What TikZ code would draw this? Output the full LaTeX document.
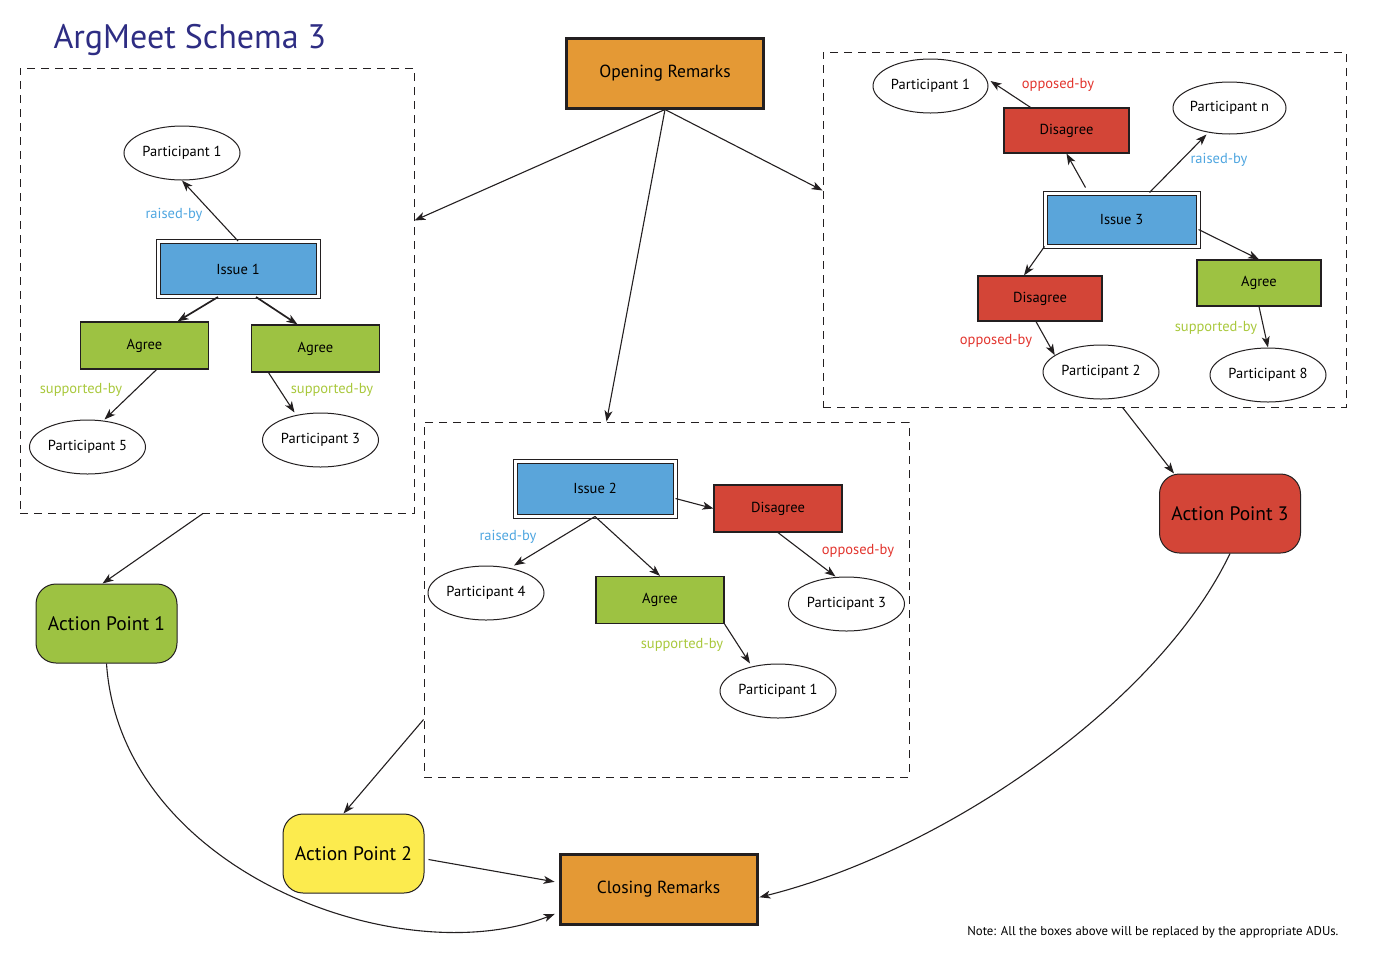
\documentclass[tikz,border=0pt]{standalone}
\usepackage{fontspec}
\setmainfont{PT Sans}
\usetikzlibrary{arrows.meta,shapes.geometric}

\definecolor{linegray}{HTML}{231F20}
\definecolor{issueblue}{HTML}{5AA5DA}
\definecolor{agreegreen}{HTML}{9DC242}
\definecolor{disred}{HTML}{D34537}
\definecolor{remorange}{HTML}{E49935}
\definecolor{apyellow}{HTML}{FCEB4E}
\definecolor{titleblue}{HTML}{2E2D83}
\definecolor{raisedcol}{HTML}{4FA6E0}
\definecolor{opposedcol}{HTML}{E2342D}
\definecolor{supportcol}{HTML}{A9C83C}

\begin{document}
\begin{tikzpicture}[x=1pt,y=-1pt,>={Stealth[length=11pt,width=8pt,inset=3pt]},
  conn/.style={->,draw=linegray,line width=1.1pt},
  group/.style={draw=linegray,dash pattern=on 8pt off 6pt,line width=0.9pt,inner sep=0pt},
  part/.style={ellipse,draw=linegray,line width=1pt,fill=white,minimum width=116pt,minimum height=54pt,inner sep=0pt,font=\fontsize{14.5}{16}\selectfont},
  issue/.style={draw=linegray,line width=1pt,double=white,double distance=3pt,fill=issueblue,minimum width=160pt,minimum height=55pt,font=\fontsize{14.5}{16}\selectfont},
  agree/.style={draw=linegray,line width=1.2pt,fill=agreegreen,minimum width=128pt,minimum height=47pt,font=\fontsize{14.5}{16}\selectfont},
  disagree/.style={agree,fill=disred},
  remarks/.style={draw=linegray,line width=3pt,fill=remorange,minimum width=197pt,minimum height=70pt,font=\fontsize{17.5}{20}\selectfont},
  action/.style={draw=linegray,line width=1pt,rounded corners=20pt,minimum width=141pt,minimum height=79pt,font=\fontsize{19.5}{24}\selectfont},
  rel/.style={font=\fontsize{14.5}{16}\selectfont}]
  \useasboundingbox (0,0) rectangle (1376,956);

  \node[anchor=base west,text=titleblue,font=\fontsize{34}{38}\selectfont] (title) at (50,48) {ArgMeet Schema 3};

  % groups
  \node[group,minimum width=394pt,minimum height=445pt] (box1) at (217,290.5) {};
  \node[group,minimum width=485pt,minimum height=355pt] (box2) at (666.5,599.5) {};
  \node[group,minimum width=523pt,minimum height=355pt] (box3) at (1084.5,229.5) {};

  \node[remarks] (open) at (665,73) {Opening Remarks};
  \node[remarks] (close) at (658.5,889.5) {Closing Remarks};

  \node[action,fill=agreegreen] (ap1) at (106.5,623.5) {Action Point 1};
  \node[action,fill=apyellow] (ap2) at (353.5,853.5) {Action Point 2};
  \node[action,fill=disred] (ap3) at (1230,513.5) {Action Point 3};

  % issue 1
  \node[part] (b1p1) at (182,153) {Participant 1};
  \node[issue] (b1iss) at (238,269) {Issue 1};
  \node[agree] (b1ag1) at (144.5,345.5) {Agree};
  \node[agree] (b1ag2) at (315.5,348.5) {Agree};
  \node[part] (b1p5) at (87.5,447) {Participant 5};
  \node[part] (b1p3) at (320.5,440) {Participant 3};
  \node[rel,text=raisedcol] (b1r1) at (174,215) {raised-by};
  \node[rel,text=supportcol] (b1s1) at (81,390) {supported-by};
  \node[rel,text=supportcol] (b1s2) at (332,390) {supported-by};

  \draw[conn] (b1iss.north) -- (b1p1.south);
  \draw[conn,line width=1.7pt] ([xshift=-20pt]b1iss.south) -- ([xshift=33pt]b1ag1.north);
  \draw[conn,line width=1.7pt] ([xshift=18pt]b1iss.south) -- ([xshift=-18pt]b1ag2.north);
  \draw[conn] ([xshift=12pt]b1ag1.south) -- ([xshift=17pt]b1p5.north);
  \draw[conn] ([xshift=-47pt]b1ag2.south) -- ([xshift=-26pt]b1p3.north);

  % issue 2
  \node[issue] (b2iss) at (595,488.5) {Issue 2};
  \node[disagree] (b2dis) at (778,508.5) {Disagree};
  \node[part] (b2p4) at (486,593) {Participant 4};
  \node[agree] (b2ag) at (660,600) {Agree};
  \node[part] (b2p3) at (846.5,604) {Participant 3};
  \node[part] (b2p1) at (778,691) {Participant 1};
  \node[rel,text=raisedcol] (b2r1) at (508,537) {raised-by};
  \node[rel,text=opposedcol] (b2o1) at (858,551) {opposed-by};
  \node[rel,text=supportcol] (b2s1) at (682,645) {supported-by};

  \draw[conn] ([yshift=-10pt]b2iss.east) -- (b2dis.west);
  \draw[conn] (b2iss.south) -- ([xshift=28pt]b2p4.north);
  \draw[conn] (b2iss.south) -- (b2ag.north);
  \draw[conn] (b2dis.south) -- ([xshift=-11pt]b2p3.north);
  \draw[conn] (b2ag.south east) -- ([xshift=-28pt]b2p1.north);

  % issue 3
  \node[part,minimum width=115pt] (b3p1) at (930.5,86) {Participant 1};
  \node[disagree,minimum width=125pt,minimum height=45pt] (b3dis1) at (1066.5,130.5) {Disagree};
  \node[part,minimum width=113pt,minimum height=52pt] (b3pn) at (1229.5,108) {Participant n};
  \node[issue,minimum width=153pt,minimum height=53pt] (b3iss) at (1121.5,219.5) {Issue 3};
  \node[disagree,minimum width=124pt,minimum height=45pt] (b3dis2) at (1040,298.5) {Disagree};
  \node[agree,minimum width=124pt,minimum height=46pt] (b3ag) at (1259,283) {Agree};
  \node[part] (b3p2) at (1101,372) {Participant 2};
  \node[part] (b3p8) at (1268,375) {Participant 8};
  \node[rel,text=opposedcol] (b3o1) at (1058,85) {opposed-by};
  \node[rel,text=raisedcol] (b3r1) at (1219,160) {raised-by};
  \node[rel,text=opposedcol] (b3o2) at (996,341) {opposed-by};
  \node[rel,text=supportcol] (b3s1) at (1216,328) {supported-by};

  \draw[conn] ([xshift=-36pt,yshift=5pt]b3iss.north) -- (b3dis1.south);
  \draw[conn] ([xshift=-36pt]b3dis1.north) -- ([xshift=2pt,yshift=5pt]b3p1.east);
  \draw[conn] ([xshift=28pt]b3iss.north) -- ([xshift=-23pt]b3pn.south);
  \draw[conn] (b3iss.south west) -- ([xshift=-16pt]b3dis2.north);
  \draw[conn] ([yshift=-10pt]b3iss.east) -- (b3ag.north);
  \draw[conn] ([xshift=-4pt]b3dis2.south) -- (b3p2.160);
  \draw[conn] (b3ag.south) -- (b3p8.north);

  % meeting flow
  \draw[conn] (open.south) -- ([yshift=70pt]box1.east);
  \draw[conn] (open.south) -- ([xshift=-60pt]box2.north);
  \draw[conn] (open.south) -- ([yshift=39pt]box3.west);
  \draw[conn] ([xshift=-14pt]box1.south) -- ([xshift=-4pt]ap1.north);
  \draw[conn] ([yshift=-120pt]box2.west) -- ([xshift=-10pt]ap2.north);
  \draw[conn] ([xshift=38pt]box3.south) -- ([xshift=-56pt]ap3.north);
  \draw[conn,shorten >=4pt] (ap1.south) .. controls +(14,207) and +(-159,62) .. ([yshift=-23pt]close.west);
  \draw[conn,shorten >=4pt] ([xshift=4pt,yshift=-6pt]ap2.east) -- ([yshift=7pt]close.west);
  \draw[conn,shorten >=1pt] (ap3.south) .. controls +(-70,147) and +(191,-48) .. ([yshift=-8pt]close.east);

  \node[anchor=base east,font=\fontsize{12.8}{14}\selectfont] (note) at (1342,935) {Note: All the boxes above will be replaced by the appropriate ADUs.};
\end{tikzpicture}
\end{document}
